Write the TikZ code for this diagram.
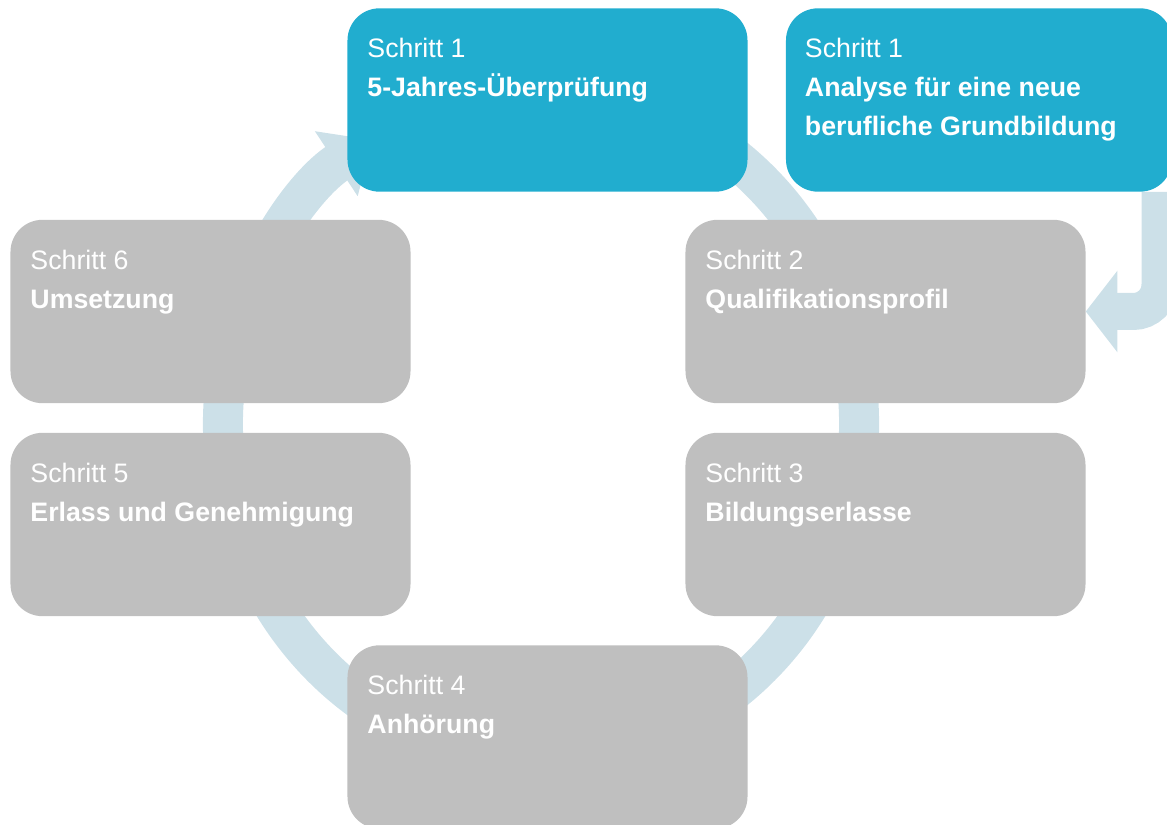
\documentclass[tikz,border=0pt]{standalone}
\usepackage{fontspec}
\setmainfont{Liberation Sans}
\usetikzlibrary{arrows.meta}

\definecolor{stepblue}{RGB}{33,173,207}
\definecolor{stepgray}{RGB}{191,191,191}
\definecolor{ringblue}{RGB}{204,224,232}

\begin{document}
\begin{tikzpicture}[x=0.03cm, y=-0.03cm,
		stepbox/.style={rectangle, rounded corners=0.96cm, inner sep=0pt, minimum width=12cm, minimum height=5.5cm},
		steptext/.style={anchor=north west, inner sep=0pt, align=left, text=white, font=\fontsize{22.8}{33.2}\selectfont},
		ring/.style={draw=ringblue, line width=1.2cm},
	]
		\useasboundingbox (0,0) rectangle (1167,825);
		\clip (0,0) rectangle (1167,825);
		
		% Cycle ring behind the boxes
		\coordinate (hub) at (541,424);
		\draw[ring, -{Triangle[width=2.25cm, length=1.3cm]}] (hub) ++(-75:318 and 335)
			arc[start angle=-75, end angle=238, x radius=318, y radius=335];
		
		% Step 1
		\node[stepbox, fill=stepblue] (jahre) at (547.5,100) {};
		\node[steptext] (jahret) at ([shift={(20,30)}]jahre.north west) {Schritt 1\\\textbf{5-Jahres-Überprüfung}};
		
		% Step 1, new training
		\node[stepbox, fill=stepblue, minimum width=11.58cm] (analyse) at (979,100) {};
		\node[steptext] (analyset) at ([shift={(19,30)}]analyse.north west) {Schritt 1\\\textbf{Analyse für eine neue}\\\textbf{berufliche Grundbildung}};
		
		% Step 2
		\node[stepbox, fill=stepgray] (qualifikation) at (885.5,311.5) {};
		\node[steptext] (qualifikationt) at ([shift={(20,30)}]qualifikation.north west) {Schritt 2\\\textbf{Qualifikationsprofil}};
		
		% Step 3
		\node[stepbox, fill=stepgray] (bildung) at (885.5,524.5) {};
		\node[steptext] (bildungt) at ([shift={(20,30)}]bildung.north west) {Schritt 3\\\textbf{Bildungserlasse}};
		
		% Step 4
		\node[stepbox, fill=stepgray] (anhoerung) at (547.5,737) {};
		\node[steptext] (anhoerungt) at ([shift={(20,30)}]anhoerung.north west) {Schritt 4\\\textbf{Anhörung}};
		
		% Step 5
		\node[stepbox, fill=stepgray] (erlass) at (210.5,524.5) {};
		\node[steptext] (erlasst) at ([shift={(20,30)}]erlass.north west) {Schritt 5\\\textbf{Erlass und Genehmigung}};
		
		% Step 6
		\node[stepbox, fill=stepgray] (umsetzung) at (210.5,311.5) {};
		\node[steptext] (umsetzungt) at ([shift={(20,30)}]umsetzung.north west) {Schritt 6\\\textbf{Umsetzung}};
		
		% Entry from the analysis into step 2
		\coordinate (drop) at (1160,0);
		\draw[draw=ringblue, line width=1.11cm, rounded corners=0.8cm, -{Triangle[width=2.4cm, length=0.95cm]}]
			(analyse.south -| drop) |- (qualifikation.east);
	\end{tikzpicture}
\end{document}
